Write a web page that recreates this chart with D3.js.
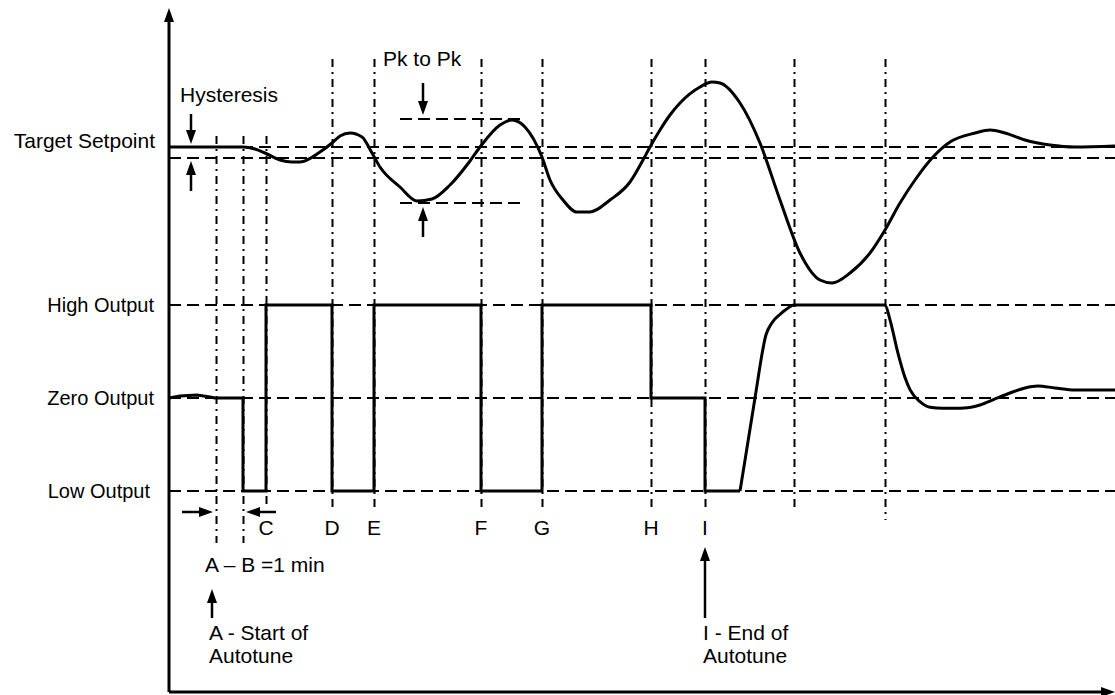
<!DOCTYPE html>
<html>
<head>
<meta charset="utf-8">
<script src="https://cdn.jsdelivr.net/npm/d3@7"></script>
<style>
body { margin: 0; background: #fff; }
text { font-family: "Liberation Sans", Arial, sans-serif; font-size: 21px; fill: #000; }
text.level { font-size: 20px; }
</style>
</head>
<body>
<div id="chart"></div>
<script>
// time in arbitrary units, process value in degrees (setpoint = 100), output in %
var pvTime = [0, 3.1, 7.4, 8.6, 9.6, 11.1, 12.3, 13.1, 15.1, 16.3, 17.1, 18.1, 19.3, 20.3, 21.1,
    23.1, 24.8, 26.3, 28.1, 30.1, 31.1, 33.1, 34.3, 35.6, 37.3, 38.1, 39.4, 40.8, 42.1, 44.1,
    46.1, 47.4, 48.1, 49.1, 50.1, 51.1, 53.1, 54.3, 55.1, 57.1, 59.1, 61.1, 63.1, 65.1, 66.3,
    68.1, 70.1, 71.6, 73.1, 74.6, 76.4, 78.1, 80.6, 82.1, 83.6, 85.6, 88.1, 90.6, 94.6];
var pvValue = [100, 100, 100, 99.8, 99.4, 98.7, 98.5, 98.5, 99.5, 100.4, 101.1, 101.4, 101.0, 99.4, 98.0,
    96.0, 94.6, 94.8, 96.2, 98.6, 100, 102.2, 102.7, 102.0, 99.0, 96.7, 94.7, 93.5, 93.5, 94.7,
    96.5, 98.7, 100, 101.7, 103.2, 104.4, 106.0, 106.5, 106.4, 104.4, 100.4, 94.7, 89.4, 86.7, 86.4,
    87.4, 89.4, 91.7, 94.4, 96.7, 99.0, 100.5, 101.4, 101.7, 101.4, 100.7, 100.2, 100.0, 100.1];

// output while autotuning (square wave)
var outStepTime = [0, 1.1, 2.8, 4.1, 4.6, 7.4, 7.4, 9.7, 9.7, 16.3, 16.3, 20.5, 20.5, 31.2, 31.2,
    37.3, 37.3, 48.2, 48.2, 53.6, 53.6, 57.1];
var outStepValue = [0, 2.2, 3.2, 1.1, 0, 0, -100, -100, 100, 100, -100, -100, 100, 100, -100,
    -100, 100, 100, 0, 0, -100, -100];

// output after autotune, PID in control
var outPidTime = [57.1, 57.6, 58.6, 59.7, 60.3, 61.1, 61.8, 62.5, 71.6, 72.1, 72.9, 73.6, 74.1,
    75.1, 76.1, 77.4, 79.1, 81.1, 82.6, 84.1, 85.6, 86.9, 88.6, 90.6, 94.6];
var outPidValue = [-100, -67, 0, 68, 81, 90, 96, 100, 100, 84, 48, 22, 9,
    -4, -10, -11, -11, -7.5, -1, 5.4, 10.8, 12.9, 10.8, 8.6, 8.6];

var eventNames = ["A", "B", "C", "D", "E", "F", "G", "H", "I", "", ""];
var eventTimes = [4.7, 7.4, 9.7, 16.3, 20.5, 31.2, 37.3, 48.2, 53.6, 62.5, 71.6];

var levelNames = ["Target Setpoint", "High Output", "Zero Output", "Low Output"];
var outputLevels = [100, 0, -100];
var setpoint = 100, hysteresis = 1.1;
var peakValue = 102.8, troughValue = 94.4;

var width = 1115, height = 695;

var svg = d3.select("#chart").append("svg")
    .attr("width", width)
    .attr("height", height);

var x = d3.scaleLinear().domain([0, 94.6]).range([169, 1115]);
var yPv = d3.scaleLinear().domain([90, 110]).range([247, 47]);
var yOut = d3.scaleLinear().domain([-100, 100]).range([491, 305]);

var axisBottom = 692, axisTop = 8;

// dashed reference levels
var hLevels = [yPv(setpoint), yPv(setpoint - hysteresis)]
    .concat(outputLevels.map(function(d) { return yOut(d); }));

svg.append("g")
    .selectAll("line")
    .data(hLevels)
    .enter().append("line")
    .attr("x1", x(0))
    .attr("x2", x(94.6))
    .attr("y1", function(d) { return d; })
    .attr("y2", function(d) { return d; })
    .style("stroke", "#000")
    .style("stroke-width", 2)
    .style("stroke-dasharray", "12,6");

// peak to peak marks
svg.append("g")
    .selectAll("line")
    .data([peakValue, troughValue])
    .enter().append("line")
    .attr("x1", x(23.1))
    .attr("x2", x(35.7))
    .attr("y1", function(d) { return yPv(d); })
    .attr("y2", function(d) { return yPv(d); })
    .style("stroke", "#000")
    .style("stroke-width", 2)
    .style("stroke-dasharray", "12,6");

// event lines A..I
var events = eventTimes.map(function(t, i) { return { t: t, name: eventNames[i], i: i }; });

svg.append("g")
    .selectAll("line")
    .data(events)
    .enter().append("line")
    .attr("x1", function(d) { return Math.round(x(d.t)) + 0.5; })
    .attr("x2", function(d) { return Math.round(x(d.t)) + 0.5; })
    .attr("y1", function(d) { return d.i < 3 ? 136 : 59; })
    .attr("y2", function(d) {
        if (d.i < 2) return 543;
        if (d.i == 10) return 520;
        return 507;
    })
    .style("stroke", "#000")
    .style("stroke-width", 2)
    .style("stroke-dasharray", "8,5,2,5");

svg.append("g")
    .selectAll("text")
    .data(events.filter(function(d) { return d.i > 1 && d.name; }))
    .enter().append("text")
    .attr("x", function(d) { return x(d.t); })
    .attr("y", 535)
    .attr("text-anchor", "middle")
    .text(function(d) { return d.name; });

// process value and output
var pvLine = d3.line()
    .x(function(d) { return x(d[0]); })
    .y(function(d) { return yPv(d[1]); })
    .curve(d3.curveMonotoneX);

var outLine = d3.line()
    .x(function(d) { return x(d[0]); })
    .y(function(d) { return yOut(d[1]); });

svg.append("path")
    .datum(d3.zip(pvTime, pvValue))
    .attr("d", pvLine)
    .style("fill", "none")
    .style("stroke", "#000")
    .style("stroke-width", 3);

svg.append("path")
    .datum(d3.zip(outStepTime, outStepValue))
    .attr("d", outLine)
    .style("fill", "none")
    .style("stroke", "#000")
    .style("stroke-width", 3);

svg.append("path")
    .datum(d3.zip(outPidTime, outPidValue))
    .attr("d", outLine.curve(d3.curveMonotoneX))
    .style("fill", "none")
    .style("stroke", "#000")
    .style("stroke-width", 3);

// arrows
function arrow(x1, y1, x2, y2, w) {
    var a = Math.atan2(y2 - y1, x2 - x1), len = 14, half = 5;
    var bx = x2 - len * Math.cos(a), by = y2 - len * Math.sin(a);
    svg.append("line")
        .attr("x1", x1).attr("y1", y1)
        .attr("x2", bx).attr("y2", by)
        .style("stroke", "#000")
        .style("stroke-width", w || 2.5);
    svg.append("path")
        .attr("d", "M" + x2 + "," + y2 +
            "L" + (bx + half * Math.sin(a)) + "," + (by - half * Math.cos(a)) +
            "L" + (bx - half * Math.sin(a)) + "," + (by + half * Math.cos(a)) + "Z")
        .style("fill", "#000");
}

// axes
arrow(x(0), axisBottom, x(0), axisTop, 3);
svg.append("line")
    .attr("x1", x(0)).attr("y1", axisBottom)
    .attr("x2", 1102).attr("y2", axisBottom)
    .style("stroke", "#000")
    .style("stroke-width", 3);
svg.append("path")
    .attr("d", "M1115," + axisBottom + "L1101," + (axisBottom - 5) + "L1101," + (axisBottom + 5) + "Z")
    .style("fill", "#000");

// hysteresis arrows
arrow(x(2.2), 114, x(2.2), yPv(setpoint) - 3);
arrow(x(2.2), 191, x(2.2), yPv(setpoint - hysteresis) + 3);

// peak to peak arrows
arrow(x(25.4), 83, x(25.4), yPv(peakValue) - 4);
arrow(x(25.4), 237, x(25.4), yPv(troughValue) + 4);

// A - B arrows
arrow(182, 512, x(eventTimes[0]) - 3, 512);
arrow(276, 512, x(eventTimes[1]) + 3, 512);

// start / end of autotune arrows
arrow(212, 618, 212, 589);
arrow(x(eventTimes[8]), 618, x(eventTimes[8]), 547);

// labels
var levelY = [yOut(100), yOut(0), yOut(-100)];
svg.append("text")
    .attr("x", 155)
    .attr("y", 148)
    .attr("text-anchor", "end")
    .text(levelNames[0]);

svg.append("g")
    .selectAll("text")
    .data(levelNames.slice(1))
    .enter().append("text")
    .attr("class", "level")
    .attr("x", function(d, i) { return i == 2 ? 150 : 154; })
    .attr("y", function(d, i) { return levelY[i]; })
    .attr("dy", "0.35em")
    .attr("text-anchor", "end")
    .text(function(d) { return d; });

svg.append("text").attr("x", 180).attr("y", 102).text("Hysteresis");
svg.append("text").attr("x", 383).attr("y", 66).text("Pk to Pk");
svg.append("text").attr("x", 205).attr("y", 572).text("A \u2013 B =1 min");
svg.append("text").attr("x", 209).attr("y", 640).text("A - Start of");
svg.append("text").attr("x", 209).attr("y", 663).text("Autotune");
svg.append("text").attr("x", 703).attr("y", 640).text("I - End of");
svg.append("text").attr("x", 703).attr("y", 663).text("Autotune");
</script>
</body>
</html>
